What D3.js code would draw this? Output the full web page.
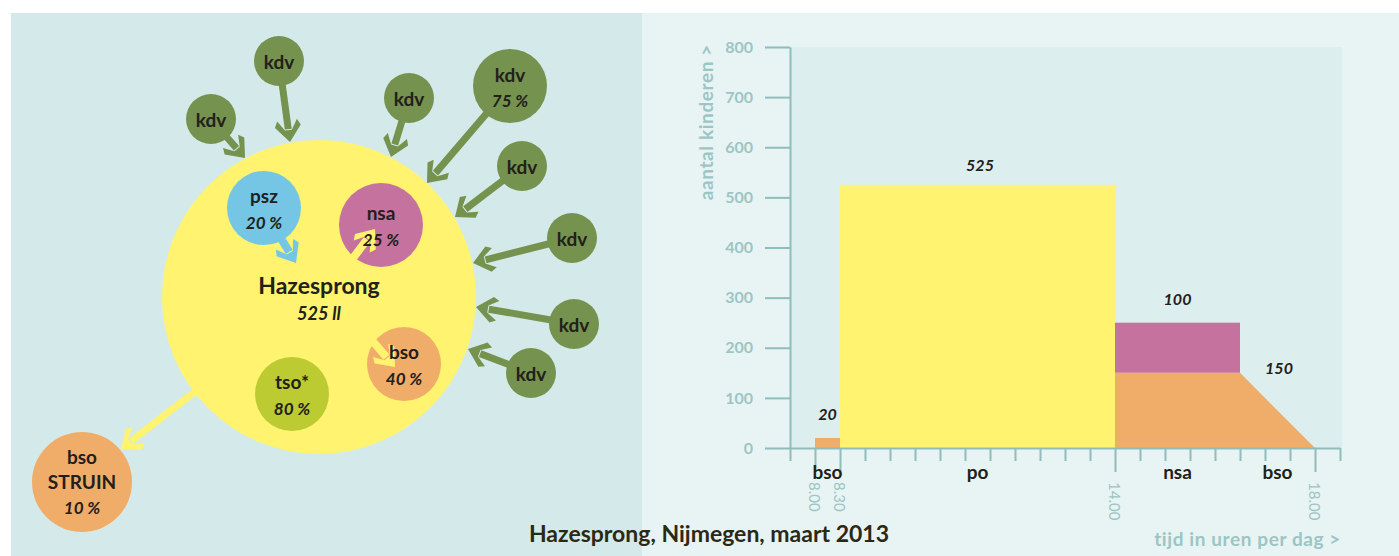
<!DOCTYPE html>
<html>
<head>
<meta charset="UTF-8">
<title>Hazesprong, Nijmegen</title>
<script src="https://cdn.jsdelivr.net/npm/d3@7"></script>
<style type="text/css">
  body { margin: 0; background: #ffffff; }
  svg { display: block; font-family: Lato, 'Open Sans', sans-serif; }
  .axis path, .axis line { stroke: #8fbdbb; stroke-width: 2; }
  .axis text { fill: #9cc5c3; font-size: 16px; font-weight: 700; font-family: Lato, sans-serif; }
</style>
</head>
<body>
<script>

  // ---- chart data (right) ----
  var yTicks = [0, 100, 200, 300, 400, 500, 600, 700, 800];
  var timeTicks = [8, 8.5, 14, 18];
  var timeTickLabels = ["8.00", "8.30", "14.00", "18.00"];
  var barNames = ["bso", "po", "nsa"];
  var barStart = [8, 8.5, 14];
  var barEnd = [8.5, 14, 16.5];
  var barBase = [0, 0, 150];
  var barValue = [20, 525, 100];
  var bsoAfternoon = [[14, 0], [14, 150], [16.5, 150], [18, 0]]; // [hour, children]
  var categoryNames = ["bso", "po", "nsa", "bso"];
  var categoryHours = [8.25, 11.25, 15.25, 17.25];
  var valueLabels = ["20", "525", "100", "150"];
  var valueHours = [8.25, 11.3, 15.25, 17.28];
  var valueLevels = [20, 525, 250, 150];

  // ---- diagram data (left) ----
  var schoolName = "Hazesprong";
  var schoolPupils = "525 ll";
  var kdvNames = ["kdv", "kdv", "kdv", "kdv", "kdv", "kdv", "kdv", "kdv"];
  var kdvShares = ["", "", "", "75 %", "", "", "", ""];
  var innerNames = ["psz", "nsa", "bso", "tso*"];
  var innerShares = ["20 %", "25 %", "40 %", "80 %"];
  var outerNames = ["bso", "STRUIN"];
  var outerShare = "10 %";
  var footer = "Hazesprong, Nijmegen, maart 2013";

  // layout of the diagram (pixels)
  var school = {x: 319, y: 297, r: 157};
  var kdvLayout = [
    {x: 211, y: 119, r: 25, tip: [245, 158]},
    {x: 279, y: 61,  r: 25, tip: [290, 142]},
    {x: 409, y: 98,  r: 25, tip: [391, 157]},
    {x: 510, y: 86,  r: 37, tip: [427, 183]},
    {x: 522, y: 166, r: 25, tip: [455, 217]},
    {x: 572, y: 238, r: 25, tip: [473, 263]},
    {x: 574, y: 324, r: 25, tip: [476, 307]},
    {x: 531, y: 373, r: 25, tip: [468, 349]}
  ];
  var innerLayout = [
    {x: 264, y: 208, r: 37, fill: "#74c6e4", from: [266, 214], tip: [296, 263], arrow: "#74c6e4"},
    {x: 381, y: 225, r: 42, fill: "#c6729e", from: [344, 270], tip: [375, 229], arrow: "#fff36f"},
    {x: 404, y: 364, r: 37, fill: "#f0ad69", from: [363, 330], tip: [395, 367], arrow: "#fff36f"},
    {x: 292, y: 394, r: 37, fill: "#bccb32"}
  ];
  var outerLayout = {x: 82, y: 482, r: 50, from: [210, 380], tip: [121, 449]};

  var colors = {kdv: "#75924f", school: "#fff36f", bso: "#f0ad69", po: "#fff36f", nsa: "#c6729e",
                text: "#22201a", axisText: "#9cc5c3"};

  var svg = d3.select("body").append("svg")
              .attr("width", 1399)
              .attr("height", 556);

  // backgrounds
  svg.append("rect").attr("x", 11).attr("y", 13).attr("width", 631).attr("height", 543).attr("fill", "#d4eaea");
  svg.append("rect").attr("x", 642).attr("y", 13).attr("width", 757).attr("height", 543).attr("fill", "#e8f4f4");

  // arrow drawing helper: shaft + notched chevron head
  var head = [[0, 0], [-16, -13], [-22, -10], [-12, -3.5], [-12, 3.5], [-22, 10], [-16, 13]];
  function arrow(g, from, tip, color, w) {
    var dx = tip[0] - from[0], dy = tip[1] - from[1];
    var len = Math.sqrt(dx * dx + dy * dy);
    var ang = Math.atan2(dy, dx) * 180 / Math.PI;
    var a = g.append("g").attr("transform", "translate(" + tip[0] + "," + tip[1] + ") rotate(" + ang + ")");
    a.append("line").attr("x1", -len).attr("y1", 0).attr("x2", -13).attr("y2", 0)
      .attr("stroke", color).attr("stroke-width", w || 7);
    a.append("path").attr("d", d3.line()(head) + "Z").attr("fill", color);
  }

  // ---- left diagram ----
  var diag = svg.append("g");

  diag.append("circle").attr("cx", school.x).attr("cy", school.y).attr("r", school.r).attr("fill", colors.school);

  // arrow to bso STRUIN
  arrow(diag, outerLayout.from, outerLayout.tip, colors.school, 7);

  kdvLayout.forEach(function(d) { arrow(diag, [d.x, d.y], d.tip, colors.kdv, 7); });

  diag.selectAll("circle.kdv")
      .data(kdvLayout)
      .enter().append("circle")
      .attr("class", "kdv")
      .attr("cx", d => d.x).attr("cy", d => d.y).attr("r", d => d.r)
      .attr("fill", colors.kdv);

  diag.selectAll("circle.inner")
      .data(innerLayout)
      .enter().append("circle")
      .attr("class", "inner")
      .attr("cx", d => d.x).attr("cy", d => d.y).attr("r", d => d.r)
      .attr("fill", d => d.fill);

  innerLayout.forEach(function(d) { if (d.tip) arrow(diag, d.from, d.tip, d.arrow, 8); });

  diag.append("circle").attr("cx", outerLayout.x).attr("cy", outerLayout.y).attr("r", outerLayout.r).attr("fill", colors.bso);

  // labels
  function label(g, x, y, txt, size, italic) {
    g.append("text").attr("x", x).attr("y", y)
      .attr("text-anchor", "middle").attr("dominant-baseline", "central")
      .attr("font-size", size).attr("font-weight", 700)
      .attr("font-style", italic ? "italic" : "normal")
      .attr("fill", colors.text).text(txt);
  }

  kdvLayout.forEach(function(d, i) {
    if (kdvShares[i]) {
      label(diag, d.x, d.y - 12, kdvNames[i], 19);
      label(diag, d.x, d.y + 14, kdvShares[i], 17, true);
    } else {
      label(diag, d.x, d.y, kdvNames[i], 19);
    }
  });
  innerLayout.forEach(function(d, i) {
    label(diag, d.x, d.y - 13, innerNames[i], 19);
    label(diag, d.x, d.y + 14, innerShares[i], 17, true);
  });
  label(diag, school.x, school.y - 12, schoolName, 23);
  label(diag, school.x, school.y + 16, schoolPupils, 18, true);
  label(diag, outerLayout.x, outerLayout.y - 26, outerNames[0], 19);
  label(diag, outerLayout.x, outerLayout.y - 1, outerNames[1], 19);
  label(diag, outerLayout.x, outerLayout.y + 25, outerShare, 17, true);

  // ---- right chart ----
  var x = d3.scaleLinear().domain([7.5, 18.5]).range([790, 1340]);
  var y = d3.scaleLinear().domain([0, 800]).range([448, 47]);

  svg.append("rect")
     .attr("x", x(7.5)).attr("y", y(800))
     .attr("width", x(18.5) - x(7.5) + 2).attr("height", y(0) - y(800))
     .attr("fill", "#ddeeee");

  svg.selectAll("rect.bar")
     .data(barNames)
     .enter().append("rect")
     .attr("class", "bar")
     .attr("x", (d, i) => x(barStart[i]))
     .attr("width", (d, i) => x(barEnd[i]) - x(barStart[i]))
     .attr("y", (d, i) => y(barBase[i] + barValue[i]))
     .attr("height", (d, i) => y(barBase[i]) - y(barBase[i] + barValue[i]))
     .attr("fill", d => colors[d]);

  svg.append("path")
     .attr("d", d3.line().x(d => x(d[0])).y(d => y(d[1]))(bsoAfternoon) + "Z")
     .attr("fill", colors.bso);

  // axes
  var yAxis = d3.axisLeft(y).tickValues(yTicks).tickSize(25).tickPadding(12).tickSizeOuter(0);
  svg.append("g").attr("class", "axis").attr("transform", "translate(" + x(7.5) + ",0)").call(yAxis);

  var xAxis = d3.axisBottom(x).tickValues(d3.range(7.5, 18.51, 0.5)).tickSize(13).tickSizeOuter(0).tickFormat("");
  var gx = svg.append("g").attr("class", "axis").attr("transform", "translate(0," + y(0) + ")").call(xAxis);
  gx.selectAll(".tick line").filter(d => timeTicks.indexOf(d) >= 0).attr("y2", 24);

  svg.selectAll("text.time")
     .data(timeTickLabels)
     .enter().append("text")
     .attr("class", "time")
     .attr("transform", (d, i) => "translate(" + x(timeTicks[i]) + "," + (y(0) + 34) + ") rotate(90)")
     .attr("dominant-baseline", "central")
     .attr("font-size", 15)
     .attr("fill", colors.axisText)
     .text(d => d);

  svg.selectAll("text.cat")
     .data(categoryNames)
     .enter().append("text")
     .attr("class", "cat")
     .attr("x", (d, i) => x(categoryHours[i]))
     .attr("y", y(0) + 31)
     .attr("text-anchor", "middle")
     .attr("font-size", 19).attr("font-weight", 700)
     .attr("fill", colors.text)
     .text(d => d);

  svg.selectAll("text.val")
     .data(valueLabels)
     .enter().append("text")
     .attr("class", "val")
     .attr("x", (d, i) => x(valueHours[i]))
     .attr("y", (d, i) => y(valueLevels[i]) + [-18, -14, -18, 1][i])
     .attr("text-anchor", "middle")
     .attr("font-size", 16).attr("font-weight", 700).attr("font-style", "italic")
     .attr("fill", colors.text)
     .text(d => d);

  svg.append("text")
     .attr("transform", "translate(705," + y(650) + ") rotate(-90)")
     .attr("text-anchor", "middle").attr("dominant-baseline", "central")
     .attr("font-size", 19).attr("font-weight", 700).attr("letter-spacing", 0.6)
     .attr("fill", colors.axisText)
     .text("aantal kinderen >");

  svg.append("text")
     .attr("x", 1341).attr("y", 546)
     .attr("text-anchor", "end")
     .attr("font-size", 19).attr("font-weight", 700).attr("letter-spacing", 0.6)
     .attr("fill", colors.axisText)
     .text("tijd in uren per dag >");

  svg.append("text")
     .attr("x", 709).attr("y", 542)
     .attr("text-anchor", "middle")
     .attr("font-size", 23).attr("font-weight", 700)
     .attr("fill", "#2b2914")
     .text(footer);

</script>
</body>
</html>
